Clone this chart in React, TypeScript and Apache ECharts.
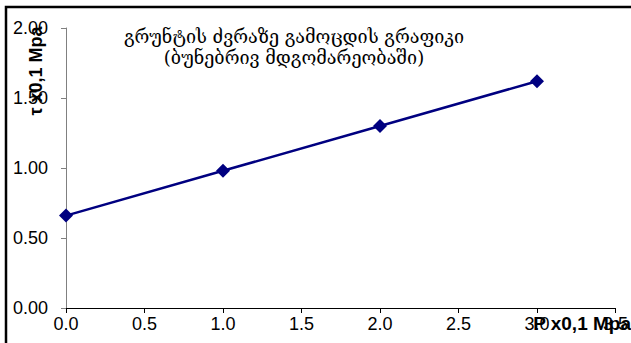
import React, { useEffect, useRef } from "react";
import * as echarts from "echarts";

const pressure = [0, 1, 2, 3];
const shear = [0.66, 0.98, 1.3, 1.62];
const titleLines = ["გრუნტის ძვრაზე გამოცდის გრაფიკი", "(ბუნებრივ მდგომარეობაში)"];
const xName = "P x0,1 Mpa";
const yName = "τ x0,1 Mpa";

export default function App() {
  const ref = useRef<HTMLDivElement>(null);
  useEffect(() => {
    document.body.style.margin = "0";
    const chart = echarts.init(ref.current!, null, { renderer: "svg" });
    chart.setOption({
      animation: false,
      backgroundColor: "#ffffff",
      grid: { left: 66, right: 14, top: 28, bottom: 35 },
      xAxis: {
        type: "value",
        min: 0,
        max: 3.5,
        interval: 0.5,
        axisLine: { show: true, lineStyle: { color: "#000", width: 1 } },
        axisTick: { show: true, inside: false, length: 5, lineStyle: { color: "#000" } },
        splitLine: { show: false },
        axisLabel: {
          margin: 7,
          color: "#000",
          fontFamily: "Liberation Sans, Arial, sans-serif",
          fontSize: 18,
          formatter: (v: number) => v.toFixed(1),
        },
      },
      yAxis: {
        type: "value",
        min: 0,
        max: 2,
        interval: 0.5,
        axisLine: { show: true, lineStyle: { color: "#808080", width: 1 } },
        axisTick: { show: true, inside: false, length: 5, lineStyle: { color: "#808080" } },
        splitLine: { show: false },
        axisLabel: {
          margin: 18,
          color: "#000",
          fontFamily: "Liberation Sans, Arial, sans-serif",
          fontSize: 18,
          formatter: (v: number) => v.toFixed(2),
        },
      },
      series: [
        {
          type: "line",
          data: pressure.map((p, i) => [p, shear[i]]),
          symbol: "diamond",
          symbolSize: 14,
          lineStyle: { color: "#000080", width: 2.5 },
          itemStyle: { color: "#000080" },
        },
      ],
      graphic: [
        {
          type: "rect",
          shape: { x: 6, y: 7, width: 700, height: 400 },
          style: { fill: "none", stroke: "#000", lineWidth: 2.5 },
          silent: true,
          z: 100,
        },
        {
          type: "text",
          x: 294,
          y: 26,
          style: {
            text: titleLines.join("\n"),
            textAlign: "center",
            textVerticalAlign: "top",
            fill: "#000",
            font: "18px 'DejaVu Serif', 'DejaVu Sans', serif",
            lineHeight: 21,
          },
        },
        {
          type: "text",
          x: 36,
          y: 71,
          rotation: Math.PI / 2,
          style: {
            text: yName,
            textAlign: "center",
            textVerticalAlign: "middle",
            fill: "#000",
            font: "bold 18px 'Liberation Sans', Arial, sans-serif",
          },
        },
        {
          type: "text",
          x: 631,
          y: 323,
          style: {
            text: xName,
            textAlign: "right",
            textVerticalAlign: "middle",
            fill: "#000",
            font: "bold 19px 'Liberation Sans', Arial, sans-serif",
          },
        },
      ],
    });
    return () => chart.dispose();
  }, []);
  return <div ref={ref} style={{ width: 631, height: 343 }} />;
}
